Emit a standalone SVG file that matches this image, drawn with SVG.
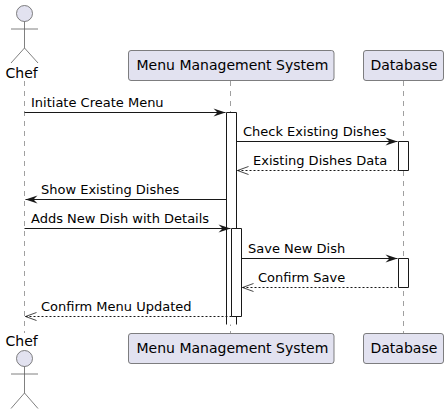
<svg xmlns="http://www.w3.org/2000/svg" width="448" height="414" viewBox="0 0 448 414">
<defs>
<marker id="solid" markerUnits="userSpaceOnUse" markerWidth="14" markerHeight="12" refX="13" refY="6" orient="auto"><path d="M1 2 L13 6 L1 10 L5 6 Z" fill="#181818"/></marker>
<marker id="open" markerUnits="userSpaceOnUse" markerWidth="14" markerHeight="12" refX="1" refY="6" orient="auto"><path d="M12 2 L1 6 L12 10" fill="none" stroke="#181818" stroke-width=".8"/></marker>
</defs>
<style>
text{font-family:"DejaVu Sans",sans-serif;fill:#000}
.t{font-size:13px}
.n{font-size:14px}
.box{fill:#E2E2F0;stroke:#5f5f5f;stroke-width:.8}
.life{stroke:#5f5f5f;stroke-width:.6;stroke-dasharray:5 5;fill:none}
.act{fill:#fff;stroke:#181818;stroke-width:1}
.m{stroke:#181818;stroke-width:1;fill:none}
.d{stroke:#181818;stroke-width:1;stroke-dasharray:2 2;fill:none}
.a{stroke:#5f5f5f;stroke-width:.8;fill:none}
</style>
<g id="lifelines">
<path class="life" d="M24.5 81V333"/>
<path class="life" d="M230.5 81V333"/>
<path class="life" d="M403.5 81V333"/>
</g>
<g id="activations">
<path d="M227 113H236V324H227Z" fill="#fff"/>
<path class="act" d="M226.5 324.5V112.5H236.5V324.5"/>
<path class="act" d="M231.5 228.5H241.5V316.5H231.5Z"/>
<path class="act" d="M398.5 141.5H408.5V170.5H398.5Z"/>
<path class="act" d="M398.5 258.5H408.5V287.5H398.5Z"/>
</g>
<g id="connectors">
<path class="m" marker-end="url(#solid)" d="M24.5 112.5H225.5"/>
<path class="m" marker-end="url(#solid)" d="M236.5 141.5H397.5"/>
<path class="d" marker-start="url(#open)" d="M237.5 170.5H398.5"/>
<path class="m" marker-end="url(#solid)" d="M226.5 199.5H25.5"/>
<path class="m" marker-end="url(#solid)" d="M24.5 228.5H230.5"/>
<path class="m" marker-end="url(#solid)" d="M241.5 258.5H397.5"/>
<path class="d" marker-start="url(#open)" d="M242.5 287.5H398.5"/>
<path class="d" marker-start="url(#open)" d="M25.5 316.5H231.5"/>
</g>
<g id="labels">
<text class="t" x="31" y="107">Initiate Create Menu</text>
<text class="t" x="243" y="136">Check Existing Dishes</text>
<text class="t" x="253" y="165">Existing Dishes Data</text>
<text class="t" x="41" y="194">Show Existing Dishes</text>
<text class="t" x="31" y="223">Adds New Dish with Details</text>
<text class="t" x="248" y="253">Save New Dish</text>
<text class="t" x="258" y="282">Confirm Save</text>
<text class="t" x="41" y="311">Confirm Menu Updated</text>
</g>
<g id="chef-top">
<circle class="box" cx="24.5" cy="13.5" r="8"/>
<path class="a" d="M24.5 21.5V48M11 29H38M11 63L24.5 48L38 63"/>
<text class="n" x="5.5" y="78">Chef</text>
</g>
<g id="menu-top">
<rect class="box" x="128.5" y="50.5" width="205.500" height="30" rx="2.500"/>
<text class="n" x="136.500" y="70">Menu Management System</text>
</g>
<g id="database-top">
<rect class="box" x="363.500" y="50.500" width="80" height="30" rx="2.500"/>
<text class="n" x="370.500" y="70">Database</text>
</g>
<g id="chef-bottom">
<text class="n" x="5.500" y="346">Chef</text>
<circle class="box" cx="24.500" cy="358.500" r="8"/>
<path class="a" d="M24.500 366.500V393M11 374H38M11 408.500L24.500 393L38 408.500"/>
</g>
<g id="menu-bottom">
<rect class="box" x="128.500" y="333.500" width="205.500" height="30" rx="2.500"/>
<text class="n" x="136.500" y="353">Menu Management System</text>
</g>
<g id="database-bottom">
<rect class="box" x="363.500" y="333.500" width="80" height="30" rx="2.500"/>
<text class="n" x="370.500" y="353">Database</text>
</g>
</svg>
